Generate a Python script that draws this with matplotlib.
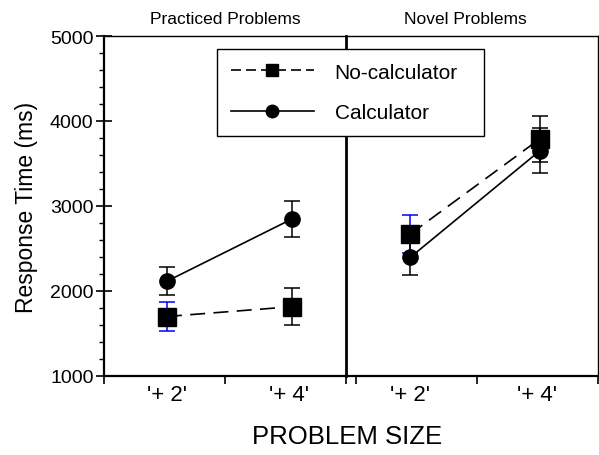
import matplotlib
matplotlib.use("Agg")
import matplotlib.pyplot as plt
from matplotlib.lines import Line2D

plt.rcParams['font.family'] = ['Liberation Sans', 'DejaVu Sans']

# data
sizes = ["'+ 2'", "'+ 4'"]
panel_titles = ["Practiced Problems", "Novel Problems"]
series_names = ["No-calculator", "Calculator"]

practiced_nocalc = [1700, 1815]
practiced_nocalc_err = [170, 220]
practiced_calc = [2115, 2845]
practiced_calc_err = [165, 210]

novel_nocalc = [2670, 3790]
novel_nocalc_err = [225, 270]
novel_calc = [2395, 3650]
novel_calc_err = [210, 265]

W, H = 599, 456
fig = plt.figure(figsize=(W / 100, H / 100), dpi=100)

x0, x_div, x1 = 104, 346, 598
y_top, y_bot = 37, 377
axL = fig.add_axes([x0 / W, (H - y_bot) / H, (x_div - x0) / W, (y_bot - y_top) / H])
axR = fig.add_axes([x_div / W, (H - y_bot) / H, (x1 - x_div) / W, (y_bot - y_top) / H])


def draw_panel(ax, xs, nocalc, nocalc_err, calc, calc_err):
    # no-calculator: dashed, squares, first error bar blue
    ax.plot(xs, nocalc, color='black', lw=1.2, dashes=(9, 5), zorder=3)
    for i in range(len(xs)):
        c = 'blue' if i == 0 else 'black'
        ax.errorbar(xs[i], nocalc[i], yerr=nocalc_err[i], fmt='none', ecolor=c,
                    elinewidth=1.1, capsize=6, capthick=1.1, zorder=2)
    ax.plot(xs, nocalc, ls='none', marker='s', ms=12.5, color='black', zorder=4)
    # calculator: solid, circles
    ax.errorbar(xs, calc, yerr=calc_err, fmt='none', ecolor='black',
                elinewidth=1.1, capsize=6, capthick=1.1, zorder=2)
    ax.plot(xs, calc, color='black', lw=1.2, marker='o', ms=11, zorder=4)
    ax.set_ylim(1000, 5000)


xsL = [0.52, 1.55]
xsR = [0.45, 1.52]
draw_panel(axL, xsL, practiced_nocalc, practiced_nocalc_err, practiced_calc, practiced_calc_err)
draw_panel(axR, xsR, novel_nocalc, novel_nocalc_err, novel_calc, novel_calc_err)

axL.set_xlim(0, 2)
axR.set_xlim(-0.08, 2)

for ax, xs in ((axL, [0.52, 1.53]), (axR, [0.45, 1.5])):
    ax.set_xticks([0, 1, 2])
    ax.set_xticklabels([])
    ax.set_xticks(xs, minor=True)
    ax.set_xticklabels(sizes, minor=True, fontsize=16)
    ax.tick_params(axis='x', which='major', direction='out', length=6, width=1.2)
    ax.tick_params(axis='x', which='minor', length=0, pad=6)
    ax.spines['top'].set_linewidth(1.0)
    ax.spines['bottom'].set_linewidth(1.6)

# y axis on the left panel
axL.set_yticks([1000, 2000, 3000, 4000, 5000])
axL.set_yticks(range(1000, 5001, 200), minor=True)
axL.tick_params(axis='y', which='major', direction='inout', length=11, width=1.2, labelsize=14, pad=2)
axL.tick_params(axis='y', which='minor', direction='out', length=3.5, width=1.0)
axL.spines['left'].set_linewidth(1.6)
axL.spines['right'].set_linewidth(2.0)

axR.set_yticks([])
axR.spines['left'].set_visible(False)
axR.spines['right'].set_linewidth(1.0)

for ax in (axL, axR):
    ax.set_facecolor('none')

fig.text(225 / W, 1 - 20 / H, panel_titles[0], ha='center', va='center', fontsize=12.5)
fig.text(465 / W, 1 - 20 / H, panel_titles[1], ha='center', va='center', fontsize=12.5)
fig.text(27 / W, 1 - 207 / H, "Response Time (ms)", rotation=90, ha='center', va='center', fontsize=16.5)
fig.text(347 / W, 1 - 437 / H, "PROBLEM SIZE", ha='center', va='center', fontsize=18.5)

handles = [
    Line2D([], [], color='black', lw=1.2, dashes=(6, 3), marker='s', ms=8),
    Line2D([], [], color='black', lw=1.2, marker='o', ms=9),
]
lw_ax = (x_div - x0)
leg = axL.legend(handles, series_names, loc='upper left',
                 bbox_to_anchor=((217 - x0) / lw_ax, 1 - (50 - y_top) / (y_bot - y_top),
                                 (484 - 217) / lw_ax, 0.0),
                 mode='expand',
                 fontsize=15, frameon=True, fancybox=False, edgecolor='black',
                 handlelength=4.0, handletextpad=1.0, labelspacing=1.05,
                 borderpad=0.65, borderaxespad=0, framealpha=1)
leg.get_frame().set_linewidth(1.0)
leg.set_zorder(10)

fig.savefig("out.png", dpi=100)
